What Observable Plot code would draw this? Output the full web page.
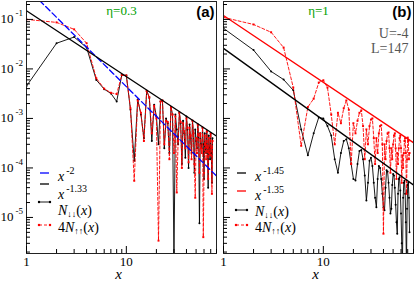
<!DOCTYPE html>
<html><head><meta charset="utf-8">
<script src="https://cdn.jsdelivr.net/npm/d3@7"></script>
<script src="https://cdn.jsdelivr.net/npm/@observablehq/plot@0.6"></script>
<style>
html,body{margin:0;padding:0;background:#fff;}
#chart{display:flex;width:415px;height:282px;overflow:hidden;}
svg{display:block;flex:none;}
</style></head><body><div id="chart"></div>
<script>
// ---- data ----
const X = [1,2,3,4,5,6,7,8,9,10,11,12,13,14,15,16,17,18,19,20,21,22,23,24,25,26,27,28,29,30,31,32,33,34,35,36,37,38,39,40,41,42,43,44,45,46,47,48,49,50,51,52,53,54,55,56,57,58,59,60,61,62,63,64,65,66,67,68,69,70,71,72,73];

// panel (a), eta = 0.3
const downA = [4.5e-3,3.3e-2,4.4e-2,2.7e-2,6.0e-3,3.9e-3,3.2e-3,2.2e-3,7.5e-3,7.4e-3,
  1.5e-3,1.4e-4,2.4e-3,1.2e-3,4.0e-4,3.6e-3,2.6e-3,3.5e-4,1.9e-3,1.1e-3,
  3.0e-4,2.2e-3,2.3e-3,2.5e-4,1.0e-3,8.0e-4,2.0e-4,1.7e-3,1.2e-3,1.5e-6,
  1.2e-3,6.0e-4,3.0e-4,1.3e-3,8.0e-4,1.2e-4,9.0e-4,5.0e-4,1.6e-4,1.1e-3,
  6.0e-4,1.0e-4,7.5e-4,4.0e-4,2.0e-4,9.0e-4,5.0e-4,8.0e-5,6.0e-4,3.5e-4,
  2.5e-4,7.5e-4,4.0e-4,7.6e-6,5.0e-4,3.0e-4,2.5e-4,6.5e-4,3.0e-4,6.0e-5,
  5.0e-4,2.5e-4,2.0e-4,5.5e-4,2.5e-4,4.0e-5,4.5e-4,2.5e-4,1.5e-4,5.0e-4,
  2.0e-4,5.0e-5,4.0e-4];
const upA = [0.10,0.087,0.063,0.033,6.5e-3,4.0e-3,3.3e-3,3.1e-3,7.5e-3,7.4e-3,
  1.6e-3,5.5e-5,2.3e-3,1.3e-3,3.5e-4,3.6e-3,2.7e-3,5.0e-4,1.8e-3,1.0e-3,
  3.4e-6,2.2e-3,2.3e-3,3.0e-4,9.0e-4,8.5e-4,1.5e-4,1.7e-3,1.2e-3,2.0e-4,
  1.1e-3,3.2e-5,3.5e-4,1.3e-3,8.5e-4,1.0e-4,8.0e-4,5.5e-4,2.5e-4,1.0e-3,
  6.5e-4,1.3e-4,6.5e-4,4.5e-4,1.5e-4,9.0e-4,5.0e-4,1.2e-4,2.5e-5,4.0e-4,
  2.0e-4,7.5e-4,4.5e-4,8.0e-5,5.0e-4,2.5e-4,2.0e-4,6.5e-4,4.0e-6,8.0e-5,
  4.5e-4,3.0e-4,1.5e-4,5.5e-4,2.5e-4,6.0e-5,4.0e-4,2.0e-4,1.8e-4,5.0e-4,
  2.5e-4,3.0e-5,3.5e-4];

// panel (b), eta = 1
const downB = [6.6e-2,2.4e-2,8.9e-3,6.1e-3,3.7e-3,6.0e-4,1.8e-4,5.0e-4,1.05e-3,1.0e-3,
  7.0e-4,4.5e-4,1.5e-4,8.0e-5,2.0e-4,3.5e-4,3.8e-4,2.5e-4,1.2e-4,6.0e-5,
  5.6e-5,1.2e-4,2.2e-4,2.3e-4,1.5e-4,7.0e-5,2.2e-5,5.0e-5,1.4e-4,1.6e-4,
  1.1e-4,5.0e-5,2.5e-5,1.6e-5,6.0e-5,1.1e-4,1.0e-4,6.0e-5,3.0e-5,1.6e-5,
  1.4e-5,4.0e-5,9.0e-5,8.5e-5,5.0e-5,2.5e-5,1.2e-5,1.5e-5,4.5e-5,7.5e-5,
  7.0e-5,4.0e-5,1.8e-5,8.0e-6,4.7e-6,3.0e-5,6.0e-5,6.5e-5,3.5e-5,1.2e-5,
  3.0e-6,1.0e-6,2.5e-5,5.0e-5,5.5e-5,3.0e-5,8.0e-6,1.0e-6,1.5e-5,4.5e-5,
  5.0e-5,2.5e-5,5.0e-6];
const upB = [0.11,0.079,0.055,0.027,4.2e-3,2.8e-4,1.7e-3,2.5e-3,5.3e-3,5.9e-3,
  4.2e-3,1.2e-3,3.0e-4,1.3e-3,8.0e-4,1.6e-3,2.3e-3,1.5e-3,1.2e-4,8.0e-4,
  5.0e-4,9.0e-4,1.3e-3,1.45e-3,7.0e-4,1.5e-4,6.0e-4,3.0e-4,7.0e-4,9.5e-4,
  1.0e-3,4.0e-4,1.2e-4,4.0e-4,2.0e-4,5.0e-4,7.0e-4,7.3e-4,3.0e-4,4.7e-6,
  3.0e-4,1.5e-4,3.5e-4,5.0e-4,5.2e-4,2.5e-4,8.0e-5,2.5e-4,1.5e-4,3.0e-4,
  4.5e-4,5.0e-4,2.5e-4,6.0e-5,2.0e-4,1.2e-4,2.5e-4,4.0e-4,4.5e-4,2.5e-4,
  5.0e-5,1.8e-4,1.0e-4,2.0e-4,3.5e-4,4.0e-4,2.0e-4,3.0e-5,1.5e-4,4.1e-4,
  3.5e-4,1.5e-4,2.0e-4];

// power-law fits  c * x^-p
const fitExpA = [2, 1.33];
const fitPrefA = [0.44, 0.15];
const fitColorA = ["#0000ff", "#000000"];
const fitExpB = [1.45, 1.35];
const fitPrefB = [0.026, 0.12];
const fitColorB = ["#000000", "#ff0000"];

// ticks
const yTickExps = [-1, -2, -3, -4, -5];
const xTickLabels = [1, 10, 60];
const xMajorTicks = [1, 10];

// ---- layout ----
const SERIF = "'Liberation Serif','Times New Roman',serif";
const SANS = "'Liberation Sans',Arial,sans-serif";
const X_DOMAIN = [1, 80];
const Y_DOMAIN = [1.87e-6, 0.23];
const H = 282, MT = 1, MB = 29;

function minorTicks(lo, hi) {
  const t = [];
  for (let e = -7; e <= 2; e++) for (let m = 2; m <= 9; m++) {
    const v = m * Math.pow(10, e);
    if (v >= lo && v <= hi) t.push(v);
  }
  return t;
}
const yMinor = minorTicks(Y_DOMAIN[0], Y_DOMAIN[1]);
const yMajor = yTickExps.map(e => Math.pow(10, e));
const xMinor = minorTicks(X_DOMAIN[0], X_DOMAIN[1]);

function addText(parent, x, y, parts, size, anchor) {
  const t = parent.append("text").attr("x", x).attr("y", y)
    .attr("font-size", size).attr("font-family", SERIF).attr("fill", "black")
    .attr("text-anchor", anchor || "start");
  let shift = 0;
  parts.forEach(([s, st]) => {
    const ts = t.append("tspan").text(s);
    let target = 0;
    if (st === "sup") { target = -Math.round(size * 0.5); ts.attr("font-size", Math.round(size * 0.68)).attr("dx", 2); }
    else if (st === "sub") { target = 2; ts.attr("font-size", Math.round(size * 0.62)); }
    if (st === "i") ts.attr("font-style", "italic");
    if (target !== shift) { ts.attr("dy", target - shift); shift = target; }
  });
  return t;
}

function panel(cfg) {
  const {width, ml, mr, down, up, fitExp, fitPref, fitColor, fitDash, eta, tag, notes, legend, yLabels} = cfg;
  const dn = X.map((x, i) => ({x, y: down[i]}));
  const upd = X.map((x, i) => ({x, y: up[i]}));
  const fitMarks = fitExp.map((p, k) =>
    Plot.line(X_DOMAIN.map(x => ({x, y: fitPref[k] * Math.pow(x, -p)})),
      {x: "x", y: "y", stroke: fitColor[k], strokeWidth: 1.3, strokeDasharray: fitDash[k], clip: true}));
  const marks = [
    Plot.line(dn, {x: "x", y: "y", stroke: "black", strokeWidth: 0.9, clip: true}),
    Plot.dot(dn, {x: "x", y: "y", r: 1, fill: "black", clip: true}),
    Plot.line(upd, {x: "x", y: "y", stroke: "#ff0000", strokeWidth: 0.9, strokeDasharray: "3,2", clip: true}),
    Plot.dot(upd, {x: "x", y: "y", r: 1.1, symbol: "square", fill: "#ff0000", clip: true}),
    ...fitMarks,
    Plot.frame({stroke: "#222", strokeWidth: 1}),
    Plot.axisY(yMinor, {anchor: "left", tickSize: 4, dx: 4, fill: "none", label: null}),
    Plot.axisY(yMajor, {anchor: "left", tickSize: 7, dx: 7, fill: "none", label: null}),
    Plot.axisX(xMinor, {anchor: "bottom", tickSize: 4, dy: -4, fill: "none", label: null}),
    Plot.axisX(xMajorTicks, {anchor: "bottom", tickSize: 7, dy: -7, fill: "none", label: null}),
    Plot.axisX(xTickLabels, {anchor: "bottom", tickSize: 0, tickPadding: 3, fontSize: 13, fontFamily: SERIF, label: null, tickFormat: d => String(d)}),
    Plot.text(["x"], {text: d => d, frameAnchor: "bottom", dx: -3, dy: 21, fontStyle: "italic", fontSize: 15, fontFamily: SERIF, lineAnchor: "middle"}),
    Plot.text([eta], {text: d => d, frameAnchor: "top", dy: 9, fill: "#00a000", fontSize: 13, fontFamily: SERIF, lineAnchor: "middle"}),
    Plot.text([tag], {text: d => d, frameAnchor: "top-right", dx: -2, dy: 11, textAnchor: "end", fontFamily: SANS, fontWeight: "bold", fontSize: 15, lineAnchor: "middle"}),
    ...notes.map((n, k) => Plot.text([n], {text: d => d, frameAnchor: "top-right", dx: -5, dy: 32 + 15 * k, textAnchor: "end", fill: "#555", fontSize: 14, fontFamily: SERIF, lineAnchor: "middle"}))
  ];
  const svg = Plot.plot({
    width, height: H, marginLeft: ml, marginRight: mr, marginTop: MT, marginBottom: MB,
    x: {type: "log", domain: X_DOMAIN},
    y: {type: "log", domain: Y_DOMAIN},
    style: {fontFamily: SERIF, background: "white", overflow: "visible"},
    marks
  });
  const s = d3.select(svg);
  if (yLabels) {
    const sy = svg.scale("y");
    yTickExps.forEach(e => {
      addText(s, ml - 3, sy.apply(Math.pow(10, e)) + 4.5, [["10", "n"], [String(e), "sup"]], 13, "end");
    });
  }
  // legend
  const g = s.append("g");
  const x1 = ml + 14, x2 = ml + 23;
  legend.forEach(r => {
    if (r.kind === "fit") {
      g.append("line").attr("x1", x1).attr("x2", x2).attr("y1", r.ys).attr("y2", r.ys)
        .attr("stroke", r.color).attr("stroke-width", 1.3);
    } else if (r.kind === "down") {
      g.append("line").attr("x1", x1 - 1).attr("x2", x2 + 1).attr("y1", r.ys).attr("y2", r.ys)
        .attr("stroke", "black").attr("stroke-width", 0.9);
      [x1 - 1, x2 + 1].forEach(cx => g.append("circle").attr("cx", cx).attr("cy", r.ys).attr("r", 1.2).attr("fill", "black"));
    } else {
      g.append("line").attr("x1", x1 - 1).attr("x2", x2 + 1).attr("y1", r.ys).attr("y2", r.ys)
        .attr("stroke", "#ff0000").attr("stroke-width", 0.9).attr("stroke-dasharray", "3,2");
      [x1 - 1, x2 + 1].forEach(cx => g.append("rect").attr("x", cx - 1.1).attr("y", r.ys - 1.1).attr("width", 2.2).attr("height", 2.2).attr("fill", "#ff0000"));
    }
    addText(g, ml + 32, r.yt, r.parts, 14, "start");
  });
  return svg;
}

const lgA = [
  {kind: "fit", color: "#0000ff", ys: 173, yt: 181, parts: [["x", "i"], ["-2", "sup"]]},
  {kind: "fit", color: "#000000", ys: 184, yt: 199, parts: [["x", "i"], ["-1.33", "sup"]]},
  {kind: "down", ys: 202, yt: 215, parts: [["N", "i"], ["↓↓", "sub"], ["(", "n"], ["x", "i"], [")", "n"]]},
  {kind: "up", ys: 225, yt: 232, parts: [["4", "n"], ["N", "i"], ["↑↑", "sub"], ["(", "n"], ["x", "i"], [")", "n"]]}
];
const lgB = [
  {kind: "fit", color: "#000000", ys: 173, yt: 181, parts: [["x", "i"], ["-1.45", "sup"]]},
  {kind: "fit", color: "#ff0000", ys: 191, yt: 200, parts: [["x", "i"], ["-1.35", "sup"]]},
  {kind: "down", ys: 210, yt: 216, parts: [["N", "i"], ["↓↓", "sub"], ["(", "n"], ["x", "i"], [")", "n"]]},
  {kind: "up", ys: 225, yt: 232, parts: [["4", "n"], ["N", "i"], ["↑↑", "sub"], ["(", "n"], ["x", "i"], [")", "n"]]}
];

const chart = document.getElementById("chart");
chart.append(panel({width: 217, ml: 26, mr: 1, down: downA, up: upA,
  fitExp: fitExpA, fitPref: fitPrefA, fitColor: fitColorA, fitDash: ["6,3", null],
  eta: "η=0.3", tag: "(a)", notes: [], legend: lgA, yLabels: true}));
chart.append(panel({width: 198, ml: 6, mr: 2, down: downB, up: upB,
  fitExp: fitExpB, fitPref: fitPrefB, fitColor: fitColorB, fitDash: [null, null],
  eta: "η=1", tag: "(b)", notes: ["U=-4", "L=147"], legend: lgB, yLabels: false}));
</script></body></html>
